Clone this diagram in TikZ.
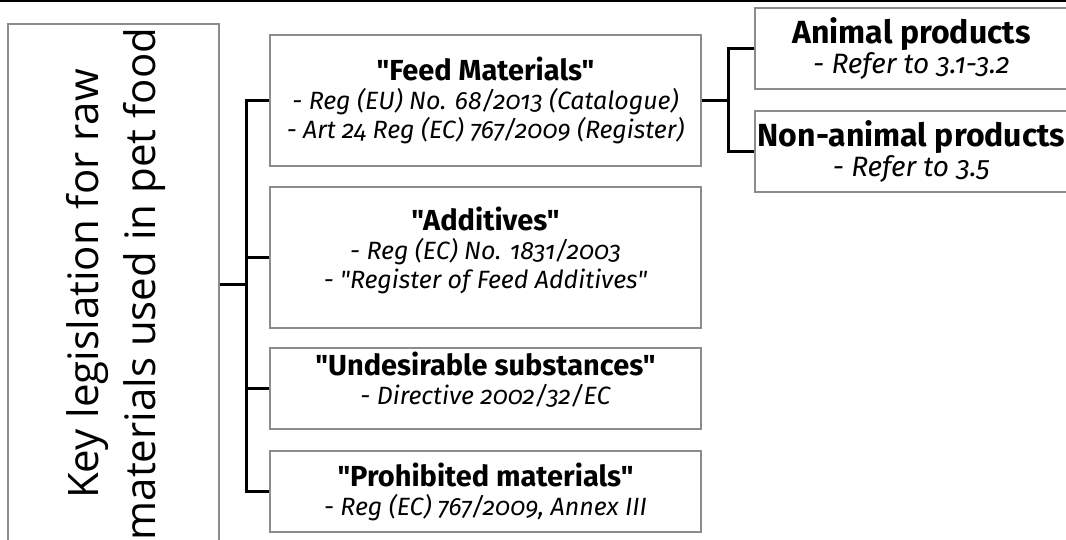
\documentclass[tikz,border=0pt]{standalone}
\usepackage{fontspec}
\setmainfont{Fira Sans}[Numbers=OldStyle,Ligatures=TeXOff]
\newfontfamily\titlefont{Open Sans}
\usepackage{tikz}
\usetikzlibrary{positioning}
\definecolor{boxgray}{HTML}{8C8C8C}
\newcommand{\hd}[1]{{\upshape\bfseries\fontsize{29}{35}\selectfont #1}}
\newcommand{\shd}[1]{{\upshape\bfseries\fontsize{32}{35}\selectfont #1}}
\newcommand{\lift}{\rule[-20pt]{0pt}{1pt}}

\begin{document}
\begin{tikzpicture}[
    x=1pt,y=-1pt,
    box/.style={
        draw=boxgray,
        line width=1.2pt,
        align=center,
        inner sep=0pt,
        font=\fontsize{25}{29}\selectfont\itshape
    },
    mid/.style={box,minimum width=431pt},
    side/.style={box,minimum width=313pt,minimum height=81pt,font=\fontsize{28}{30}\selectfont\itshape},
    link/.style={line width=3pt,black}
]
  \useasboundingbox (0,0) rectangle (1066,539);
  \draw[line width=2pt] (0,1) -- (1066,1);

  \node[box,minimum width=211pt,minimum height=521pt](title) at (113.5,284.5){};
  \node[rotate=90,align=center,font=\titlefont\fontsize{42}{57}\selectfont](title_txt) at (116,284){Key legislation for raw\\materials used in pet food};

  \node[mid,minimum height=131pt](feed) at (485.5,100.5){\hd{"Feed Materials"}\\- Reg (EU) No. 68/2013 (Catalogue)\\- Art 24 Reg (EC) 767/2009 (Register)};
  \node[mid,minimum height=141pt](addit) at (485.5,257.5){\hd{"Additives"}\\- Reg (EC) No. 1831/2003\\- "Register of Feed Additives"\lift};
  \node[mid,minimum height=81pt](undes) at (485.5,388.5){\hd{"Undesirable substances"}\\- Directive 2002/32/EC\lift};
  \node[mid,minimum height=81pt](prohib) at (485.5,491.5){\hd{"Prohibited materials"}\\- Reg (EC) 767/2009, Annex III};

  \node[side](animal) at (911.5,48.5){\shd{Animal products}\\- Refer to 3.1-3.2};
  \node[side](nonanim) at (911.5,151.5){\shd{Non-animal products}\\- Refer to 3.5};

  \coordinate[right=27pt of title.east](trunk);
  \coordinate[right=27pt of feed.east](fork);

  \draw[link] (title.east) -- (trunk |- title.east);
  \draw[link] (feed.west) -| (trunk |- prohib.west) -- (prohib.west);
  \foreach \Box in {addit,undes} {
    \draw[link] (trunk |- \Box.west) -- (\Box.west);
  }
  \draw[link] (feed.east) -- (fork);
  \draw[link] (animal.west) -| (fork |- nonanim.west) -- (nonanim.west);
\end{tikzpicture}
\end{document}
